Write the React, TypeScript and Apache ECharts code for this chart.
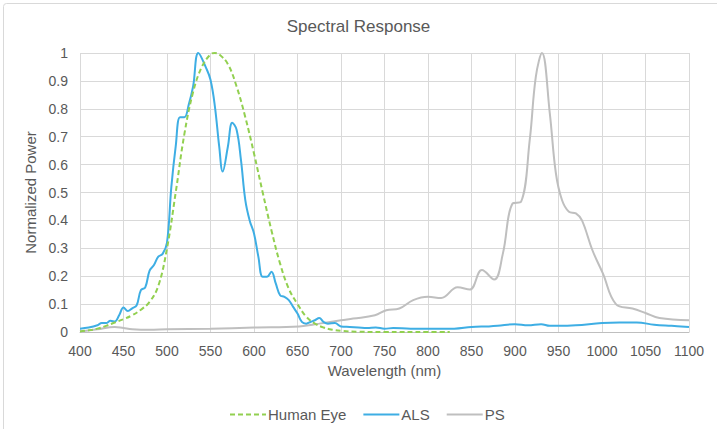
import React, { useEffect, useRef } from "react";
import * as echarts from "echarts";

const title = "Spectral Response";
const xName = "Wavelength (nm)";
const yName = "Normalized Power";
const seriesNames = ["Human Eye", "ALS", "PS"];

const eyeWl = [400, 410, 420, 430, 440, 450, 460, 470, 480, 490, 500, 510, 520, 530, 540, 550, 555, 560, 570, 580, 590, 600, 610, 620, 630, 640, 650, 660, 670, 680, 690, 700, 720, 750, 800, 825];
const eyeVal = [0.002, 0.006, 0.012, 0.022, 0.034, 0.046, 0.06, 0.08, 0.108, 0.165, 0.3, 0.5, 0.71, 0.86, 0.95, 0.995, 1.0, 0.995, 0.96, 0.88, 0.77, 0.64, 0.5, 0.365, 0.245, 0.155, 0.1, 0.055, 0.03, 0.016, 0.008, 0.004, 0.001, 0, 0, 0];

const alsWl = [400, 410, 420, 425, 430, 435, 440, 445, 450, 455, 460, 465, 470, 475, 480, 485, 490, 495, 500, 505, 510, 515, 520, 525, 530, 536, 545, 550, 555, 560, 564, 570, 575, 580, 585, 590, 595, 600, 605, 610, 615, 620, 625, 630, 635, 640, 645, 650, 655, 660, 665, 670, 675, 680, 685, 693, 700, 710, 720, 730, 740, 750, 760, 780, 800, 830, 850, 870, 880, 900, 915, 930, 940, 950, 970, 1000, 1020, 1040, 1060, 1080, 1100];
const alsVal = [0.012, 0.016, 0.024, 0.032, 0.032, 0.04, 0.038, 0.06, 0.088, 0.075, 0.085, 0.095, 0.15, 0.16, 0.22, 0.24, 0.27, 0.28, 0.32, 0.52, 0.665, 0.77, 0.77, 0.815, 0.88, 1.0, 0.946, 0.904, 0.81, 0.665, 0.575, 0.665, 0.75, 0.725, 0.617, 0.473, 0.4, 0.353, 0.27, 0.198, 0.198, 0.216, 0.174, 0.132, 0.126, 0.114, 0.09, 0.066, 0.036, 0.03, 0.036, 0.042, 0.05, 0.036, 0.03, 0.032, 0.02, 0.018, 0.016, 0.014, 0.016, 0.012, 0.014, 0.012, 0.012, 0.012, 0.018, 0.02, 0.022, 0.028, 0.024, 0.028, 0.022, 0.022, 0.024, 0.032, 0.034, 0.034, 0.026, 0.022, 0.018];

const psWl = [400, 420, 440, 450, 460, 480, 500, 550, 600, 652, 675, 700, 714, 739, 752, 767, 783, 800, 815, 834, 848, 862, 876, 886, 897, 907, 917, 924, 931, 940, 947, 954, 962, 970, 977, 989, 1001, 1016, 1035, 1050, 1066, 1100];
const psVal = [0.002, 0.01, 0.018, 0.014, 0.01, 0.008, 0.01, 0.012, 0.016, 0.02, 0.03, 0.042, 0.048, 0.06, 0.078, 0.084, 0.114, 0.126, 0.122, 0.16, 0.152, 0.222, 0.188, 0.28, 0.46, 0.467, 0.69, 0.916, 1.0, 0.784, 0.569, 0.473, 0.431, 0.425, 0.4, 0.293, 0.21, 0.1, 0.084, 0.068, 0.05, 0.042];

const zip = (xs: number[], ys: number[]) => xs.map((x, i) => [x, ys[i]]);

const FONT = "'Liberation Sans', Arial, sans-serif";
const TXT = "#595959";

export default function App() {
  const ref = useRef<HTMLDivElement>(null);
  useEffect(() => {
    if (!ref.current) return;
    const chart = echarts.init(ref.current, null, { renderer: "svg" });
    chart.setOption({
      animation: false,
      backgroundColor: "#ffffff",
      textStyle: { fontFamily: FONT },
      title: {
        text: title,
        left: "center",
        top: 13,
        textStyle: { fontFamily: FONT, fontSize: 17, fontWeight: "normal", color: TXT },
      },
      graphic: [
        {
          type: "rect",
          shape: { x: 3.5, y: 3.5, width: 730, height: 450, r: 3 },
          style: { fill: "none", stroke: "#d9d9d9", lineWidth: 1 },
          silent: true,
        },
      ],
      legend: {
        left: 224,
        top: 402,
        itemWidth: 36,
        itemHeight: 14,
        itemGap: 16,
        itemStyle: { opacity: 0 },
        textStyle: { fontFamily: FONT, fontSize: 15, color: TXT, padding: [0, 0, 0, -3] },
        data: seriesNames,
      },
      grid: { left: 80, right: 28, top: 53, bottom: 97, containLabel: false },
      xAxis: {
        type: "value",
        min: 400,
        max: 1100,
        interval: 50,
        name: xName,
        nameLocation: "middle",
        nameGap: 31,
        nameTextStyle: { fontFamily: FONT, fontSize: 15, color: TXT },
        axisLine: { show: true, lineStyle: { color: "#bfbfbf", width: 1 } },
        axisTick: { show: false },
        axisLabel: {
          fontFamily: FONT,
          fontSize: 14,
          color: TXT,
          margin: 12,
          formatter: (v: number) => String(v),
        },
        splitLine: { show: true, lineStyle: { color: "#d9d9d9", width: 1 } },
      },
      yAxis: {
        type: "value",
        min: 0,
        max: 1,
        interval: 0.1,
        name: yName,
        nameLocation: "middle",
        nameGap: 40,
        nameTextStyle: { fontFamily: FONT, fontSize: 15, color: TXT },
        axisLine: { show: false },
        axisTick: { show: false },
        axisLabel: {
          fontFamily: FONT,
          fontSize: 14,
          color: TXT,
          margin: 12,
          formatter: (v: number) => String(Math.round(v * 10) / 10),
        },
        splitLine: { show: true, lineStyle: { color: "#d9d9d9", width: 1 } },
      },
      series: [
        {
          name: seriesNames[0],
          type: "line",
          data: zip(eyeWl, eyeVal),
          smooth: 0.4,
          symbol: "none",
          lineStyle: { color: "#92d050", width: 2, type: [5, 3] },
          itemStyle: { color: "#92d050" },
          z: 3,
        },
        {
          name: seriesNames[1],
          type: "line",
          data: zip(alsWl, alsVal),
          smooth: 0.4,
          symbol: "none",
          lineStyle: { color: "#3eaee4", width: 2 },
          itemStyle: { color: "#3eaee4" },
          z: 2,
        },
        {
          name: seriesNames[2],
          type: "line",
          data: zip(psWl, psVal),
          smooth: 0.4,
          symbol: "none",
          lineStyle: { color: "#bfbfbf", width: 2 },
          itemStyle: { color: "#bfbfbf" },
          z: 1,
        },
      ],
    });
    return () => chart.dispose();
  }, []);
  return (
    <div
      ref={ref}
      style={{ position: "absolute", left: 0, top: 0, width: 717, height: 429 }}
    />
  );
}
